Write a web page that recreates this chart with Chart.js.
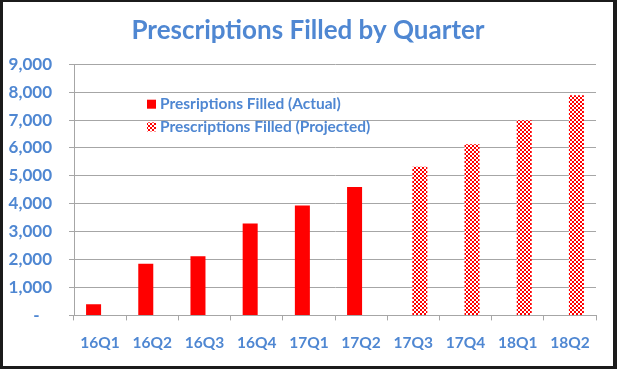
<!DOCTYPE html>
<html>
<head>
<meta charset="utf-8">
<script src="https://cdn.jsdelivr.net/npm/chart.js@4.4.1/dist/chart.umd.min.js"></script>
<style>
  html, body { margin: 0; padding: 0; background: #1b1b1b; }
  #frame {
    position: absolute; left: 0; top: 0; width: 617px; height: 369px;
    box-sizing: border-box; background: #ffffff;
    border-style: solid; border-color: #1b1b1b;
    border-width: 2px 4px 3px 3px;
  }
  #wrap { position: relative; width: 610px; height: 364px; }
</style>
</head>
<body>
<div id="frame"><div id="wrap"><canvas id="c" width="610" height="364"></canvas></div></div>
<script>
// ---- data ----
const titleText = 'Prescriptions Filled by Quarter';
const categories = ['16Q1', '16Q2', '16Q3', '16Q4', '17Q1', '17Q2', '17Q3', '17Q4', '18Q1', '18Q2'];
const actualLabel = 'Presriptions Filled (Actual)';
const actualValues = [400, 1850, 2120, 3290, 3940, 4600, null, null, null, null];
const projectedLabel = 'Prescriptions Filled (Projected)';
const projectedValues = [null, null, null, null, null, null, 5330, 6130, 6990, 7890];
const yTicks = [0, 1000, 2000, 3000, 4000, 5000, 6000, 7000, 8000, 9000];

// ---- styles ----
const BLUE = '#4f87d2';
const RED = '#ff0000';
const GRID = '#a6a6a6';
const FONT = 'Lato, "Open Sans", sans-serif';

function makePattern() {
  const p = document.createElement('canvas');
  p.width = 4; p.height = 4;
  const g = p.getContext('2d');
  g.fillStyle = '#ffffff';
  g.fillRect(0, 0, 4, 4);
  g.fillStyle = RED;
  const rows = ['.RR.', 'R..R', 'R..R', '.RR.'];
  rows.forEach((r, y) => { for (let x = 0; x < 4; x++) if (r[x] === 'R') g.fillRect(x, y, 1, 1); });
  return document.getElementById('c').getContext('2d').createPattern(p, 'repeat');
}
const pattern = makePattern();

// legend drawn inside the plot area
const insideLegend = {
  id: 'insideLegend',
  afterDraw(chart) {
    const ctx = chart.ctx;
    const a = chart.chartArea;
    const x0 = a.left + 73;
    const y0 = a.top + 40;
    const rowH = 22.7;
    ctx.save();
    ctx.font = 'bold 15.5px ' + FONT;
    ctx.textBaseline = 'middle';
    ctx.textAlign = 'left';
    chart.data.datasets.forEach((ds, i) => {
      const y = y0 + i * rowH;
      ctx.fillStyle = ds.backgroundColor;
      ctx.fillRect(x0, y - 4.5, 9, 9);
      ctx.fillStyle = BLUE;
      ctx.fillText(ds.label, x0 + 13, y);
    });
    ctx.restore();
  }
};

new Chart(document.getElementById('c'), {
  type: 'bar',
  data: {
    labels: categories,
    datasets: [
      { label: actualLabel, data: actualValues, backgroundColor: RED, borderWidth: 0 },
      { label: projectedLabel, data: projectedValues, backgroundColor: pattern, borderWidth: 0 }
    ]
  },
  options: {
    responsive: false,
    animation: false,
    events: [],
    categoryPercentage: 0.5,
    barPercentage: 1.15,
    layout: { padding: { left: 0, right: 0, top: 0, bottom: 1 } },
    plugins: {
      legend: { display: false },
      tooltip: { enabled: false },
      title: {
        display: true,
        text: titleText,
        color: BLUE,
        font: { family: FONT, size: 26, weight: 'bold' },
        padding: { top: 13, bottom: 18 }
      }
    },
    scales: {
      x: {
        grid: { drawOnChartArea: false, drawTicks: true, tickLength: 5, color: GRID, offset: true },
        border: { color: GRID, width: 1 },
        ticks: { color: BLUE, font: { family: FONT, size: 15.5, weight: 'bold' }, padding: 13, maxRotation: 0 }
      },
      y: {
        min: yTicks[0],
        max: yTicks[yTicks.length - 1],
        afterFit(scale) { scale.width = 71; },
        afterBuildTicks(scale) { scale.ticks = yTicks.map(v => ({ value: v })); },
        grid: { color: GRID, tickLength: 5, lineWidth: 1 },
        border: { color: GRID, width: 1 },
        ticks: {
          color: BLUE,
          font: { family: FONT, size: 17, weight: 'bold' },
          padding: 17,
          callback: v => v === 0 ? '-\u00a0\u00a0\u00a0' : v.toLocaleString('en-US')
        }
      },
      spacer: {
        type: 'linear',
        position: 'right',
        display: true,
        afterFit(scale) { scale.width = 17; },
        grid: { display: false, drawTicks: false },
        border: { display: false },
        ticks: { display: false }
      }
    }
  },
  plugins: [insideLegend]
});
</script>
</body>
</html>
